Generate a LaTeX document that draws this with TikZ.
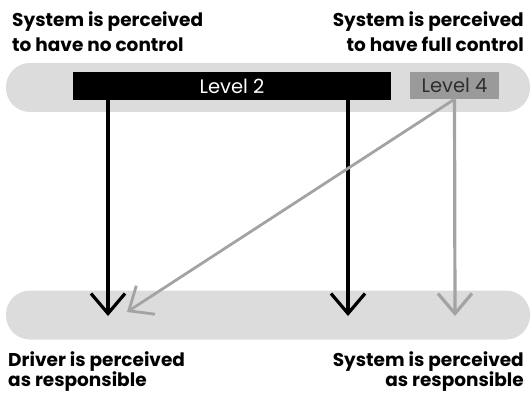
\documentclass[tikz,border=0pt]{standalone}
\usepackage{fontspec}
\setmainfont{Poppins}
\usetikzlibrary{arrows.meta,positioning}
\definecolor{bandgray}{HTML}{DCDCDC}
\definecolor{boxgray}{HTML}{9A9A9A}
\definecolor{linegray}{HTML}{A3A3A3}
\definecolor{textgray}{HTML}{2E2E2E}

\begin{document}
\begin{tikzpicture}[x=1pt,y=-1pt,
  band/.style={fill=bandgray,rounded corners=24pt,minimum width=524pt,minimum height=49pt,inner sep=0pt},
  levelbox/.style={inner sep=0pt,minimum height=28pt,font=\fontsize{19.5}{19.5}\selectfont},
  caption/.style={inner sep=0pt,font=\bfseries\fontsize{18.5}{25}\selectfont},
  tip/.style={-{Straight Barb[length=20pt,width=34pt]},line width=3.2pt}]
\useasboundingbox (0,0) rectangle (532,395);
% grey bands
\node[band] (upper) at (268,87.5) {};
\node[band] (lower) at (268,315) {};
% levels
\node[levelbox,fill=black,text=white,minimum width=318pt] (level2) at (232,86) {Level 2};
\node[levelbox,fill=boxgray,text=textgray,minimum width=89pt,minimum height=27pt] (level4) at (454.5,85.5) {Level 4};
% arrow ends
\coordinate (driver) at (108,316);
\coordinate (driverdiag) at (127,312);
\coordinate (system2) at (348,316);
\coordinate (system4) at (455,316);
\draw[tip,black] (level2.south -| driver) -- (driver);
\draw[tip,black] (level2.south -| system2) -- (system2);
\draw[tip,linegray] (level4.south) -- (system4);
\draw[tip,linegray,line width=2.8pt] (level4.south) -- (driverdiag);
% captions
\node[caption,align=left,anchor=north west] (nocontrol) at (12,11.5) {System is perceived\\to have no control};
\node[caption,align=right,anchor=north east] (fullcontrol) at (524,11.5) {System is perceived\\to have full control};
\node[caption,font=\bfseries\fontsize{18.5}{20.5}\selectfont,align=left,anchor=north west] (driverresp) at (8,351) {Driver is perceived\\as responsible};
\node[caption,font=\bfseries\fontsize{18.5}{20.5}\selectfont,align=right,anchor=north east] (systemresp) at (524,351) {System is perceived\\as responsible};
\end{tikzpicture}
\end{document}
